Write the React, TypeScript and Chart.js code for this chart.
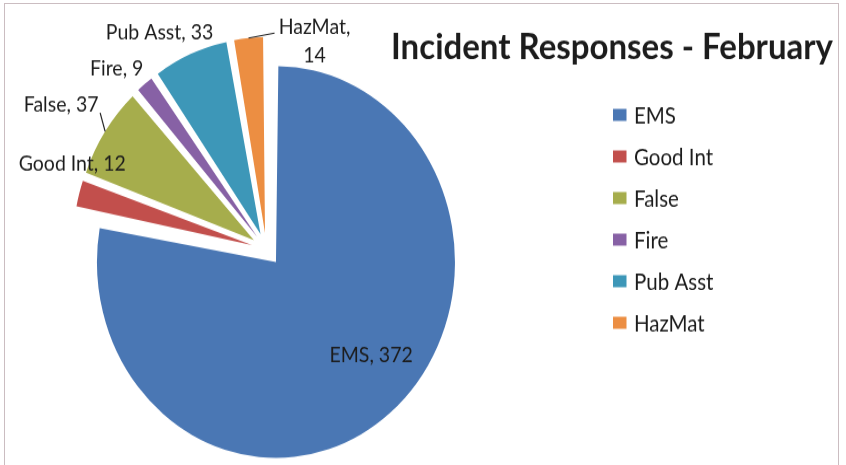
import React, { useEffect, useRef } from "react";
import { Chart, registerables } from "chart.js";

Chart.register(...registerables);

// ---- data ----
const categories = ["EMS", "Good Int", "False", "Fire", "Pub Asst", "HazMat"];
const responses = [372, 12, 37, 9, 33, 14];
const chartTitle = "Incident Responses - February";

// ---- styles ----
const sliceColors = ["#4a77b4", "#c24f4c", "#a6ad4c", "#8761a5", "#3d97b8", "#ec8e42"];
const FONT = "Lato, 'Open Sans', sans-serif";
const TEXT_COLOR = "#1c1c1c";
const CANVAS_W = 846;
const CANVAS_H = 425;
const STRETCH_Y = 465 / CANVAS_H;
const PIE_RADIUS = 179;
const SLICE_OFFSET = 60; // Chart.js translates a slice by offset / 4
const LEGEND = { boxX: 613, boxW: 13.5, boxH: 11, textX: 634, firstY: 105, pitch: 38, size: 20.5 };
const TITLE = { right: 833, baseline: 54, size: 33 };
const LABEL_SIZE = 19.5;

// label placement relative to each slice's outer mid-point
const labelPlacement = [
  { dx: -19, dy: -46, lines: ["EMS, 372"], leader: null },
  { dx: -7, dy: -21, lines: ["Good Int, 12"], leader: null },
  { dx: -44, dy: -18, lines: ["False, 37"], leader: [-5, -17] },
  { dx: -28, dy: -8, lines: ["Fire, 9"], leader: null },
  { dx: -31, dy: -13, lines: ["Pub Asst, 33"], leader: null },
  { dx: 66, dy: -4, lines: ["HazMat,", "14"], leader: [26, -4.5] },
];

const evenRadiusPlugin = {
  id: "evenRadius",
  afterDatasetsUpdate(chart: any) {
    const meta = chart.getDatasetMeta(0);
    meta.data.forEach((arc: any) => {
      const circ = arc.endAngle - arc.startAngle;
      const fix = 1 - Math.sin(Math.min(Math.PI, circ));
      arc.outerRadius = PIE_RADIUS - (SLICE_OFFSET / 4) * fix;
    });
  },
};

const labelsPlugin = {
  id: "sliceLabels",
  afterDatasetsDraw(chart: any) {
    const ctx = chart.ctx;
    const meta = chart.getDatasetMeta(0);
    ctx.save();
    ctx.font = `${LABEL_SIZE}px ${FONT}`;
    ctx.fillStyle = TEXT_COLOR;
    ctx.strokeStyle = "#222";
    ctx.lineWidth = 1.2;
    ctx.textAlign = "center";
    ctx.textBaseline = "alphabetic";
    meta.data.forEach((arc: any, i: number) => {
      const mid = (arc.startAngle + arc.endAngle) / 2;
      const d = SLICE_OFFSET / 4 + PIE_RADIUS;
      const ax = arc.x + Math.cos(mid) * d;
      const ay = arc.y + Math.sin(mid) * d;
      const p = labelPlacement[i];
      if (!p) return;
      if (p.leader) {
        ctx.beginPath();
        ctx.moveTo(ax, ay);
        ctx.lineTo(ax + p.leader[0], ay + p.leader[1]);
        ctx.stroke();
      }
      p.lines.forEach((t: string, k: number) => {
        ctx.fillText(t, ax + p.dx, ay + p.dy + k * 26);
      });
    });
    ctx.restore();
  },
  afterDraw(chart: any) {
    const ctx = chart.ctx;
    ctx.save();
    ctx.fillStyle = TEXT_COLOR;
    ctx.font = `bold ${TITLE.size}px ${FONT}`;
    ctx.textAlign = "right";
    ctx.textBaseline = "alphabetic";
    ctx.fillText(chartTitle, TITLE.right, TITLE.baseline);
    ctx.font = `${LEGEND.size}px ${FONT}`;
    ctx.textAlign = "left";
    ctx.textBaseline = "middle";
    categories.forEach((c, i) => {
      const y = LEGEND.firstY + i * LEGEND.pitch;
      ctx.fillStyle = sliceColors[i];
      ctx.fillRect(LEGEND.boxX, y - LEGEND.boxH / 2, LEGEND.boxW, LEGEND.boxH);
      ctx.fillStyle = TEXT_COLOR;
      ctx.fillText(c, LEGEND.textX, y + 1);
    });
    ctx.restore();
  },
};

export default function App() {
  const ref = useRef<HTMLCanvasElement | null>(null);
  useEffect(() => {
    if (!ref.current) return;
    const chart = new Chart(ref.current, {
      type: "pie",
      data: {
        labels: categories,
        datasets: [
          {
            data: responses,
            backgroundColor: sliceColors,
            borderWidth: 0,
            offset: SLICE_OFFSET,
          },
        ],
      },
      options: {
        responsive: false,
        animation: false,
        radius: PIE_RADIUS - SLICE_OFFSET / 4,
        layout: { padding: { left: 0, top: 30.8, right: 313.2, bottom: 0 } },
        plugins: {
          legend: { display: false },
          title: { display: false },
          tooltip: { enabled: false },
        },
      } as any,
      plugins: [evenRadiusPlugin, labelsPlugin],
    });
    return () => chart.destroy();
  }, []);
  return (
    <div style={{ position: "absolute", left: 0, top: 0, width: 846, height: 465, overflow: "hidden", background: "#fff" }}>
      <div style={{ position: "absolute", left: 0, top: 0, transform: `scaleY(${STRETCH_Y})`, transformOrigin: "0 0" }}>
        <canvas ref={ref} width={CANVAS_W} height={CANVAS_H} />
      </div>
      <div style={{ position: "absolute", left: 4, top: 3, width: 833, height: 480, border: "1px solid #cbbdc1", pointerEvents: "none" }} />
    </div>
  );
}
